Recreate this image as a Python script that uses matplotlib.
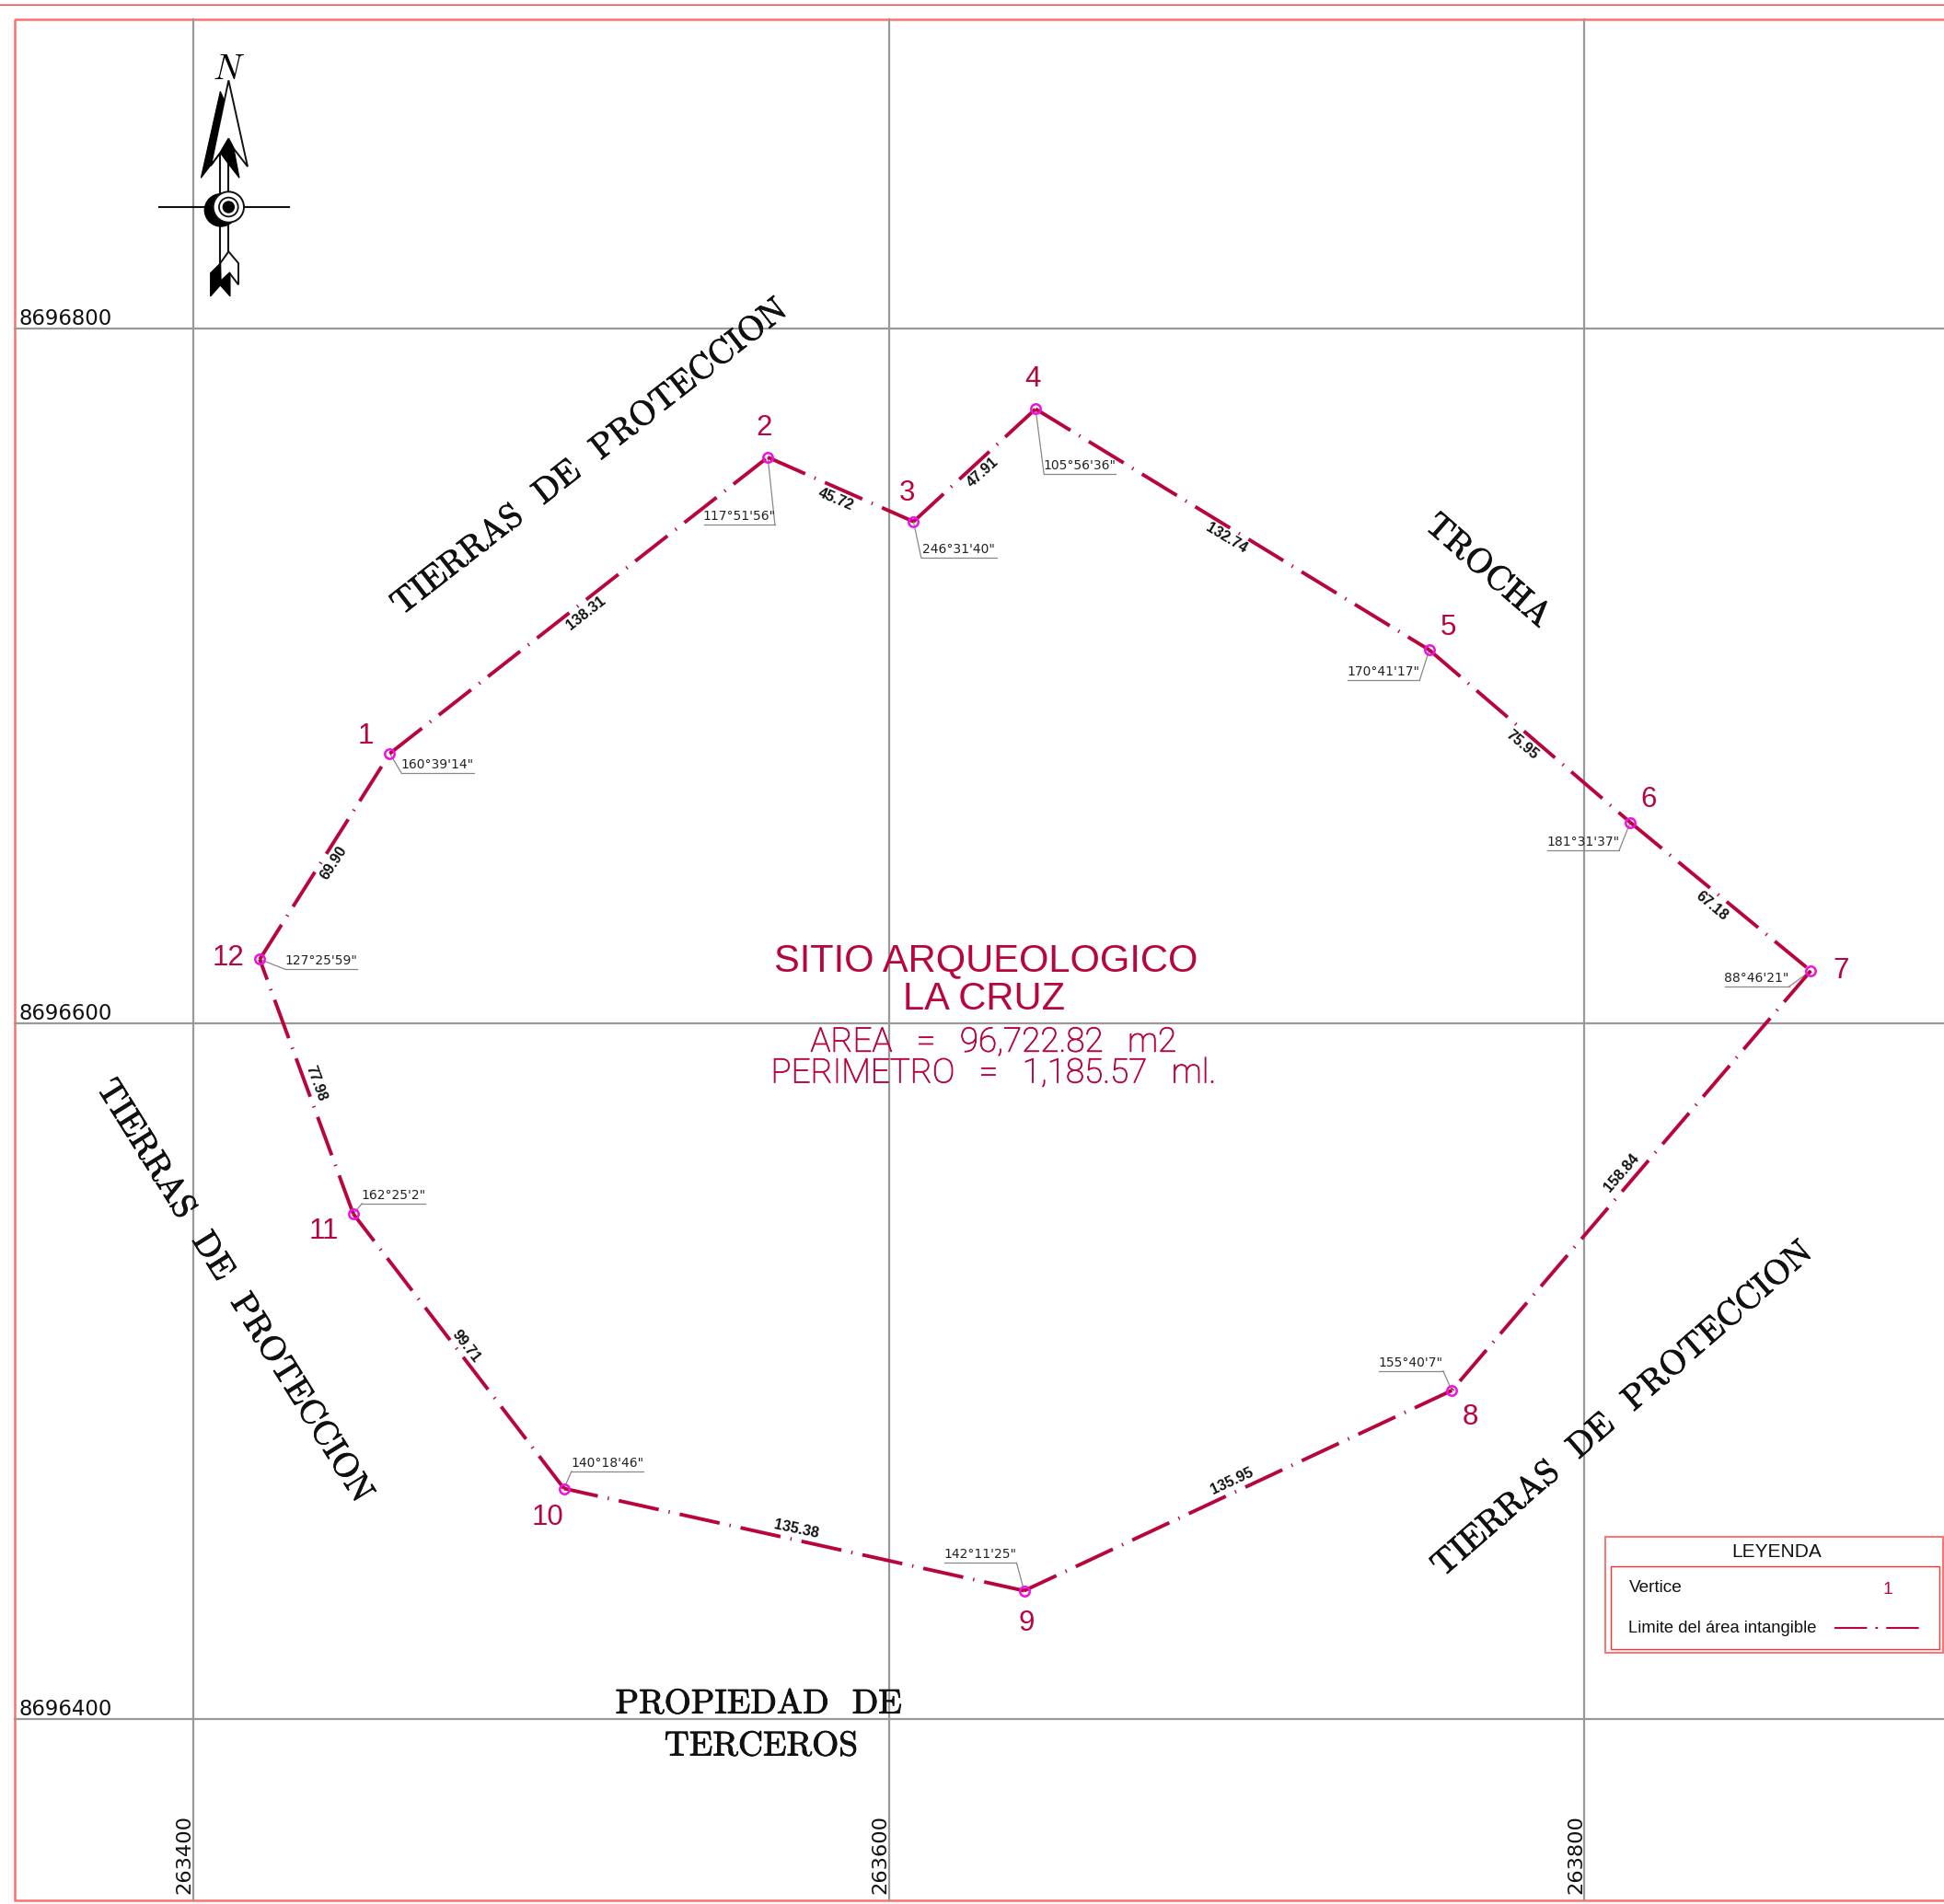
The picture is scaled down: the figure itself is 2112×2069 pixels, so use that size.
import matplotlib
matplotlib.use('Agg')
import matplotlib.pyplot as plt
import matplotlib.patheffects as pe
from matplotlib.patches import Polygon, Circle, Rectangle
from matplotlib.transforms import Affine2D

plt.rcParams['lines.scale_dashes'] = False
plt.rcParams['font.family'] = ['Liberation Sans', 'DejaVu Sans']

W, H = 2112, 2069
S = 2112 / 1568  # positions below were read on a 1568 wide view

CRIMSON = '#b8063c'
MAGENTA = '#f010e0'
GRID = '#999999'
FRAME = '#ff7070'

# map data (metres)
grid_east = [263400, 263600, 263800]
grid_north = [8696800, 8696600, 8696400]

vertex_id = ['1', '2', '3', '4', '5', '6', '7', '8', '9', '10', '11', '12']
vertex_east = [263456.5, 263565.2, 263607.1, 263642.2, 263755.4, 263813.2,
               263865.1, 263761.9, 263638.9, 263506.6, 263446.0, 263419.1]
vertex_north = [8696677.7, 8696762.9, 8696744.4, 8696776.8, 8696707.5, 8696657.9,
                8696615.2, 8696494.5, 8696436.9, 8696466.3, 8696545.3, 8696618.5]

side_length = ['138.31', '45.72', '47.91', '132.74', '75.95', '67.18',
               '158.84', '135.95', '135.38', '99.71', '77.98', '69.90']
angle_text = ['160°39\'14"', '117°51\'56"', '246°31\'40"', '105°56\'36"', '170°41\'17"', '181°31\'37"',
              '88°46\'21"', '155°40\'7"', '142°11\'25"', '140°18\'46"', '162°25\'2"', '127°25\'59"']

# label placement, in view pixels
id_xy = [(295, 594), (616, 345), (732, 398), (833, 306), (1168, 506), (1330, 645),
         (1485, 783), (1186, 1143), (828, 1310), (442, 1224), (261, 993), (184, 773)]
side_xy = [(473, 495), (674, 403), (793, 381), (989, 434), (1228, 601), (1381, 731),
           (1308, 946), (994, 1195), (642, 1234), (376, 1086), (255, 874), (269, 696)]
side_rot = [38, -23, 42, -31, -40, -40, 49, 25, -12, -52, -70, 57]
# underline x0, x1, y; leader goes to the end named by the last item
under = [(324, 382, 624, 0), (568, 625, 423, 1), (743, 804, 450, 0), (842, 900, 382, 0),
         (1087, 1145, 549, 1), (1248, 1306, 686, 1), (1391, 1443, 796, 1), (1112, 1164, 1106, 1),
         (762, 820, 1261, 1), (461, 519, 1187, 0), (292, 343, 971, 0), (230, 288, 782, 0)]

fig = plt.figure(figsize=(W / 100, H / 100), dpi=100)
ax = fig.add_axes([0, 0, 1, 1])
px_m = 2.805 * S  # image pixels per metre
ax.set_xlim(263400 - 210 / px_m, 263400 + (W - 210) / px_m)
ax.set_ylim(8696400 - (H - 1868) / px_m, 8696400 + 1868 / px_m)
ax.axis('off')

# reference pixel coordinates -> figure
pix = Affine2D().scale(1 / W, -1 / H).translate(0, 1) + fig.transFigure


def east_north_to_view(e, n):
    x = 210 + (e - 263400) * px_m
    y = 1868 - (n - 8696400) * px_m
    return x / S, y / S


# frame
ax.add_patch(Rectangle((16, 21), W, 2065 - 21, fill=False, ec=FRAME, lw=1.8, transform=pix, zorder=1))
ax.plot([0, W], [4.5, 4.5], color='#ff2020', lw=0.9, transform=pix, zorder=1)

# grid
for e in grid_east:
    ax.plot([e, e], [8696400 - (2065 - 1868) / px_m, 8696400 + (1868 - 21) / px_m], color=GRID, lw=1.6, zorder=2)
    ax.text(e + 0.2, 8696400 - (2058 - 1868) / px_m, str(e), rotation=90, ha='right', va='bottom',
            fontsize=16.2, family='DejaVu Sans', color='#111111', zorder=3)
for n in grid_north:
    ax.plot([263400 - (210 - 16) / px_m, ax.get_xlim()[1]], [n, n], color=GRID, lw=1.6, zorder=2)
    ax.text(21, 1864 + (8696400 - n) * px_m, str(n), ha='left', va='baseline', fontsize=16.4,
            family='DejaVu Sans', color='#111111', transform=pix, zorder=3)

# boundary
n_v = len(vertex_id)
for i in range(n_v):
    j = (i + 1) % n_v
    ax.plot([vertex_east[i], vertex_east[j]], [vertex_north[i], vertex_north[j]], color=CRIMSON, lw=2.8,
            dashes=(32, 7.9, 1.0, 7.9), dash_capstyle='butt', zorder=4)
ax.plot(vertex_east, vertex_north, ls='none', marker='o', ms=7.5, mfc='none', mec=MAGENTA, mew=1.8, zorder=5)

# labels on vertices and sides
for i in range(n_v):
    ax.text(id_xy[i][0] * S, id_xy[i][1] * S, vertex_id[i], ha='center', va='center', fontsize=22.5,
            color=CRIMSON, transform=pix, zorder=6)
    ax.text(side_xy[i][0] * S, side_xy[i][1] * S, side_length[i], ha='center', va='center', fontsize=11.5,
            fontweight='bold', rotation=side_rot[i], rotation_mode='anchor', color='#111111',
            transform=pix, zorder=6)
    x0, x1, y, end = under[i]
    vx, vy = east_north_to_view(vertex_east[i], vertex_north[i])
    ax.plot([x0 * S, x1 * S], [y * S, y * S], color='#888888', lw=0.9, transform=pix, zorder=3)
    ax.plot([vx * S, (x1 if end else x0) * S], [vy * S, y * S], color='#888888', lw=0.9, transform=pix, zorder=3)
    ax.text((x0 + x1) / 2 * S, (y - 1.5) * S, angle_text[i], ha='center', va='bottom', fontsize=10,
            family='DejaVu Sans', fontweight='normal', color='#222222', transform=pix, zorder=6)

# centre titles
ax.text(795 * S, 775 * S, 'SITIO ARQUEOLOGICO', ha='center', va='center', fontsize=30, color=CRIMSON,
        transform=pix, zorder=6)
ax.text(794 * S, 806 * S, 'LA CRUZ', ha='center', va='center', fontsize=30, color=CRIMSON,
        transform=pix, zorder=6)
thin = [pe.withStroke(linewidth=0.6, foreground=CRIMSON)]
ax.text(801 * S, 841 * S, 'AREA   =   96,722.82   m2', ha='center', va='center', fontsize=26.5, color=CRIMSON,
        family='Roboto', fontweight='light', path_effects=thin, transform=pix, zorder=6)
ax.text(801 * S, 866 * S, 'PERIMETRO   =   1,185.57   ml.', ha='center', va='center', fontsize=26.5, color=CRIMSON,
        family='Roboto', fontweight='light', path_effects=thin, transform=pix, zorder=6)

# neighbouring land
neigh_text = ['TIERRAS  DE  PROTECCION', 'TROCHA', 'TIERRAS  DE  PROTECCION', 'TIERRAS  DE  PROTECCION',
              'PROPIEDAD  DE', 'TERCEROS']
neigh_xy = [(476, 369), (1200, 461), (189, 1042), (1309, 1137), (612, 1375), (614, 1409)]
neigh_rot = [38, -41, -58, 41, 0, 0]
for t, xy, r in zip(neigh_text, neigh_xy, neigh_rot):
    ax.text(xy[0] * S, xy[1] * S, t, ha='center', va='center', rotation=r, rotation_mode='anchor',
            fontsize=27, family='cmr10', color='#111111', transform=pix, zorder=6,
            path_effects=[pe.withStroke(linewidth=0.6, foreground='#111111')])


# north arrow, crop pixels of a 3x zoom at (130, 30)
def na(points):
    return [(130 + x / 3, 30 + y / 3) for x, y in points]


ax.text(130 + 350 / 3, 30 + 138 / 3, 'N', ha='center', va='center', fontsize=27, family='cmmi10',
        transform=pix, zorder=6)
ax.plot(*zip(*na([(128, 585), (553, 585)])), color='#111111', lw=1.5, transform=pix, zorder=6)
ax.plot(*zip(*na([(328, 408), (328, 770)])), color='#111111', lw=1.5, transform=pix, zorder=6)
ax.plot(*zip(*na([(355, 445), (355, 730)])), color='#111111', lw=1.5, transform=pix, zorder=6)
head_white = [(355, 172), (417, 453), (372, 395), (355, 362), (328, 408), (297, 450)]
head_black = [(328, 208), (265, 490), (328, 408), (297, 450), (340, 235)]
head_inner = [(355, 362), (372, 395), (390, 490), (355, 445), (328, 408)]
tail_white = [(355, 730), (387, 768), (387, 838), (358, 800), (328, 828), (328, 768)]
tail_black = [(328, 768), (296, 800), (296, 876), (328, 840), (360, 876), (360, 800), (330, 830)]
ax.add_patch(Polygon(na(head_white), fc='white', ec='#111111', lw=1.4, transform=pix, zorder=6))
ax.add_patch(Polygon(na(head_black), fc='black', ec='black', lw=0.8, transform=pix, zorder=7))
ax.add_patch(Polygon(na(head_inner), fc='black', ec='black', lw=0.8, transform=pix, zorder=7))
ax.add_patch(Polygon(na(tail_white), fc='white', ec='#111111', lw=1.4, transform=pix, zorder=6))
ax.add_patch(Polygon(na(tail_black), fc='black', ec='black', lw=0.8, transform=pix, zorder=7))
hub = na([(355, 585)])[0]
ax.add_patch(Circle(na([(330, 595)])[0], 53 / 3, fc='black', ec='black', transform=pix, zorder=6))
ax.add_patch(Circle(hub, 50 / 3, fc='white', ec='#111111', lw=1.4, transform=pix, zorder=7))
ax.add_patch(Circle(hub, 31 / 3, fc='none', ec='#111111', lw=1.3, transform=pix, zorder=7))
ax.add_patch(Circle(hub, 18 / 3, fc='black', ec='black', transform=pix, zorder=7))

# legend
ax.add_patch(Rectangle((1743.5, 1669.5), 2110.5 - 1743.5, 1795.5 - 1669.5, fc='white', ec=FRAME, lw=1.4, transform=pix, zorder=8))
ax.add_patch(Rectangle((1749.5, 1701.5), 2106.5 - 1749.5, 1791.5 - 1701.5, fc='none', ec='#ff3030', lw=1.0, transform=pix, zorder=8))
ax.text(1930, 1687, 'LEYENDA', ha='center', va='center', fontsize=15, color='#111111', transform=pix, zorder=9)
ax.text(1770, 1725, 'Vertice', ha='left', va='center', fontsize=13.7, color='#111111', transform=pix, zorder=9)
ax.text(1769, 1770, 'Limite del área intangible', ha='left', va='center', fontsize=13.2, color='#111111', transform=pix, zorder=9)
ax.text(2051, 1727, '1', ha='center', va='center', fontsize=13.7, color=CRIMSON, transform=pix, zorder=9)
ax.plot([1992.7, 2085.7], [1769, 1769], color=CRIMSON, lw=1.5, dashes=(25.5, 6.5, 2, 6.5), dash_capstyle='butt',
        transform=pix, zorder=9)

fig.savefig('out.png', dpi=100, facecolor='white')
